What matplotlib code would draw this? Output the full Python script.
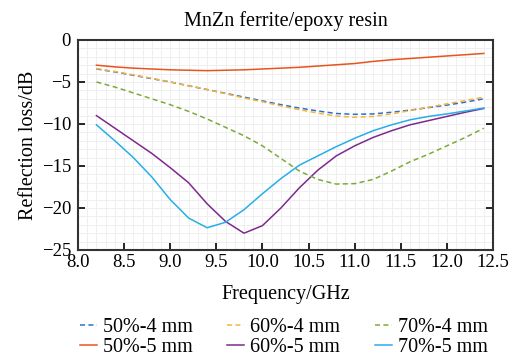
import numpy as np
import matplotlib
matplotlib.use('Agg')
import matplotlib.pyplot as plt
from matplotlib.ticker import MultipleLocator, FormatStrFormatter

plt.rcParams['font.family'] = 'Liberation Serif'
plt.rcParams['axes.unicode_minus'] = True

freq = [8.2, 8.4, 8.6, 8.8, 9.0, 9.2, 9.4, 9.6, 9.8, 10.0, 10.2,
        10.4, 10.6, 10.8, 11.0, 11.2, 11.4, 11.6, 11.8, 12.0, 12.2, 12.4]

rl_50_4 = [-3.45, -3.8, -4.2, -4.6, -5.0, -5.45, -5.9, -6.35, -6.8, -7.25, -7.7,
           -8.1, -8.45, -8.75, -8.85, -8.8, -8.6, -8.35, -8.05, -7.75, -7.4, -7.0]
rl_60_4 = [-3.4, -3.75, -4.15, -4.55, -5.0, -5.45, -5.9, -6.4, -6.9, -7.35, -7.85,
           -8.3, -8.7, -9.05, -9.2, -9.1, -8.8, -8.4, -8.0, -7.6, -7.2, -6.8]
rl_70_4 = [-5.0, -5.6, -6.3, -7.0, -7.7, -8.5, -9.4, -10.4, -11.4, -12.6, -14.1,
           -15.6, -16.6, -17.15, -17.1, -16.6, -15.6, -14.5, -13.6, -12.6, -11.6, -10.5]
rl_50_5 = [-3.0, -3.2, -3.35, -3.45, -3.55, -3.6, -3.65, -3.6, -3.55, -3.45, -3.35,
           -3.25, -3.1, -2.95, -2.8, -2.55, -2.35, -2.2, -2.05, -1.9, -1.75, -1.6]
rl_60_5 = [-9.0, -10.5, -12.0, -13.5, -15.2, -17.0, -19.5, -21.6, -23.0, -22.1, -20.0,
           -17.6, -15.5, -13.8, -12.6, -11.6, -10.8, -10.1, -9.6, -9.1, -8.6, -8.15]
rl_70_5 = [-10.1, -12.0, -14.0, -16.3, -19.0, -21.2, -22.35, -21.7, -20.2, -18.3, -16.5,
           -14.9, -13.8, -12.7, -11.7, -10.8, -10.1, -9.5, -9.1, -8.8, -8.45, -8.1]

labels = ['50%-4 mm', '50%-5 mm', '60%-4 mm', '60%-5 mm', '70%-4 mm', '70%-5 mm']

fig = plt.figure(figsize=(5.14, 3.59), dpi=100)
ax = fig.add_axes([78/514, 1 - 250/359, 415/514, 210/359])

dash = (0, (3.3, 2.2))
ax.plot(freq, rl_50_4, color='#2a6fcf', lw=1.1, ls=dash, label=labels[0])
ax.plot(freq, rl_50_5, color='#e8531f', lw=1.1, label=labels[1])
ax.plot(freq, rl_60_4, color='#f7b53b', lw=1.1, ls=dash, label=labels[2])
ax.plot(freq, rl_60_5, color='#7d2a8c', lw=1.1, label=labels[3])
ax.plot(freq, rl_70_4, color='#7aab3a', lw=1.1, ls=dash, label=labels[4])
ax.plot(freq, rl_70_5, color='#27aee8', lw=1.1, label=labels[5])

ax.set_xlim(8.0, 12.5)
ax.set_ylim(-25, 0)
ax.xaxis.set_major_locator(MultipleLocator(0.5))
ax.xaxis.set_minor_locator(MultipleLocator(0.1))
ax.yaxis.set_major_locator(MultipleLocator(5))
ax.yaxis.set_minor_locator(MultipleLocator(1))
ax.xaxis.set_major_formatter(FormatStrFormatter('%.1f'))
ax.grid(True, which='both', color='#efefef', lw=0.7)
ax.set_axisbelow(True)
ax.tick_params(which='major', direction='in', length=5, width=1.2, labelsize=13.5,
               right=True)
ax.tick_params(axis='x', pad=3)
ax.tick_params(axis='y', pad=5)
ax.tick_params(which='minor', length=0)
for s in ax.spines.values():
    s.set_linewidth(1.5)
    s.set_color('#333333')

ax.set_title('MnZn ferrite/epoxy resin', fontsize=14.5, pad=10)
ax.set_xlabel('Frequency/GHz', fontsize=14.5, labelpad=10)
ax.set_ylabel('Reflection loss/dB', fontsize=14.5, labelpad=3)

fig.legend(*ax.get_legend_handles_labels(), ncol=3, loc='upper left',
           bbox_to_anchor=(80/514, 1 - 318/359), frameon=False,
           fontsize=14.5, handlelength=0.85, handletextpad=0.3, columnspacing=1.7,
           labelspacing=0.02, borderpad=0, borderaxespad=0)

plt.savefig('out.png', dpi=100)
